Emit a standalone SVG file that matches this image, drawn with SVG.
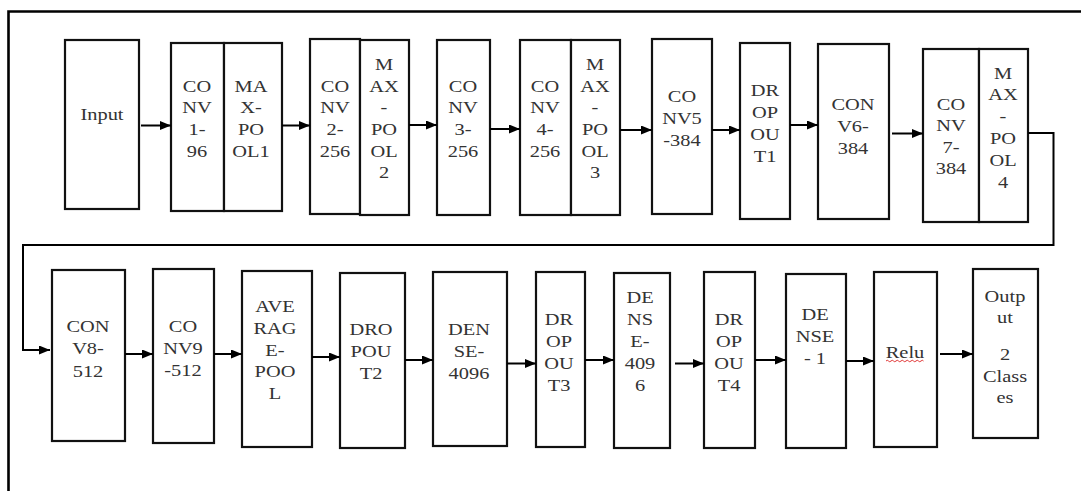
<svg xmlns="http://www.w3.org/2000/svg" width="1081" height="491" viewBox="0 0 1081 491">
<style>
.box{fill:#fff;stroke:#111;stroke-width:2.2}
.frame{fill:none;stroke:#000;stroke-width:2.6}
.cn{fill:none;stroke:#000;stroke-width:2}
.t{font-family:'Liberation Serif','Times New Roman',serif;font-size:17px;fill:#333;text-anchor:middle}
</style>
<defs>
<marker id="ah" markerUnits="userSpaceOnUse" markerWidth="12" markerHeight="10" refX="11" refY="4.5" orient="auto">
<path d="M0,0 L11,4.5 L0,9 z" fill="#000"/>
</marker>
</defs>
<rect x="0" y="0" width="1081" height="491" fill="#fff"/>
<path class="frame" d="M8.5,500 L8.5,11.5 L1090,11.5"/>

<g font-family="Liberation Serif, serif">
<g id="input"><rect class="box" x="65" y="40" width="74" height="169"/>
<text class="t" font-family="Liberation Serif, serif" transform="matrix(1.2 0 0 1 102 0)"><tspan x="0" y="120">Input</tspan></text></g>

<g id="conv1"><rect class="box" x="171" y="43" width="53" height="168"/>
<text class="t" font-family="Liberation Serif, serif" transform="matrix(1.2 0 0 1 197 0)"><tspan x="0" y="92">CO</tspan><tspan x="0" y="113.5">NV</tspan><tspan x="0" y="135">1-</tspan><tspan x="0" y="157">96</tspan></text></g>

<g id="maxpool1"><rect class="box" x="224" y="43" width="58" height="168"/>
<text class="t" font-family="Liberation Serif, serif" transform="matrix(1.2 0 0 1 251 0)"><tspan x="0" y="92">MA</tspan><tspan x="0" y="113.5">X-</tspan><tspan x="0" y="135">PO</tspan><tspan x="0" y="157">OL1</tspan></text></g>

<g id="conv2"><rect class="box" x="310" y="39" width="50" height="175"/>
<text class="t" font-family="Liberation Serif, serif" transform="matrix(1.2 0 0 1 335 0)"><tspan x="0" y="92">CO</tspan><tspan x="0" y="113.5">NV</tspan><tspan x="0" y="135">2-</tspan><tspan x="0" y="157">256</tspan></text></g>

<g id="maxpool2"><rect class="box" x="360" y="40" width="49" height="175"/>
<text class="t" font-family="Liberation Serif, serif" transform="matrix(1.2 0 0 1 384 0)"><tspan x="0" y="70">M</tspan><tspan x="0" y="92">AX</tspan><tspan x="0" y="113.5">-</tspan><tspan x="0" y="135">PO</tspan><tspan x="0" y="157">OL</tspan><tspan x="0" y="178.5">2</tspan></text></g>

<g id="conv3"><rect class="box" x="437" y="40" width="53" height="175"/>
<text class="t" font-family="Liberation Serif, serif" transform="matrix(1.2 0 0 1 463 0)"><tspan x="0" y="92">CO</tspan><tspan x="0" y="113.5">NV</tspan><tspan x="0" y="135">3-</tspan><tspan x="0" y="157">256</tspan></text></g>

<g id="conv4"><rect class="box" x="520" y="40" width="51" height="175"/>
<text class="t" font-family="Liberation Serif, serif" transform="matrix(1.2 0 0 1 545 0)"><tspan x="0" y="92">CO</tspan><tspan x="0" y="113.5">NV</tspan><tspan x="0" y="135">4-</tspan><tspan x="0" y="157">256</tspan></text></g>

<g id="maxpool3"><rect class="box" x="571" y="40" width="49" height="175"/>
<text class="t" font-family="Liberation Serif, serif" transform="matrix(1.2 0 0 1 595 0)"><tspan x="0" y="70">M</tspan><tspan x="0" y="92">AX</tspan><tspan x="0" y="113.5">-</tspan><tspan x="0" y="135">PO</tspan><tspan x="0" y="157">OL</tspan><tspan x="0" y="178.5">3</tspan></text></g>

<g id="conv5"><rect class="box" x="652" y="39" width="60" height="175"/>
<text class="t" font-family="Liberation Serif, serif" transform="matrix(1.2 0 0 1 682 0)"><tspan x="0" y="102">CO</tspan><tspan x="0" y="124">NV5</tspan><tspan x="0" y="146">-384</tspan></text></g>

<g id="dropout1"><rect class="box" x="740" y="43" width="50" height="176"/>
<text class="t" font-family="Liberation Serif, serif" transform="matrix(1.2 0 0 1 765 0)"><tspan x="0" y="96">DR</tspan><tspan x="0" y="118">OP</tspan><tspan x="0" y="140">OU</tspan><tspan x="0" y="162">T1</tspan></text></g>

<g id="conv6"><rect class="box" x="818" y="44" width="71" height="175"/>
<text class="t" font-family="Liberation Serif, serif" transform="matrix(1.2 0 0 1 853 0)"><tspan x="0" y="110">CON</tspan><tspan x="0" y="132">V6-</tspan><tspan x="0" y="154">384</tspan></text></g>

<g id="conv7"><rect class="box" x="923" y="49" width="56" height="173"/>
<text class="t" font-family="Liberation Serif, serif" transform="matrix(1.2 0 0 1 951 0)"><tspan x="0" y="110">CO</tspan><tspan x="0" y="131.5">NV</tspan><tspan x="0" y="153">7-</tspan><tspan x="0" y="174">384</tspan></text></g>

<g id="maxpool4"><rect class="box" x="979" y="49" width="49" height="173"/>
<text class="t" font-family="Liberation Serif, serif" transform="matrix(1.2 0 0 1 1003 0)"><tspan x="0" y="79">M</tspan><tspan x="0" y="100.5">AX</tspan><tspan x="0" y="122">-</tspan><tspan x="0" y="144">PO</tspan><tspan x="0" y="166">OL</tspan><tspan x="0" y="188">4</tspan></text></g>

<g id="conv8"><rect class="box" x="52" y="270" width="73" height="171"/>
<text class="t" font-family="Liberation Serif, serif" transform="matrix(1.2 0 0 1 88 0)"><tspan x="0" y="332">CON</tspan><tspan x="0" y="354">V8-</tspan><tspan x="0" y="377">512</tspan></text></g>

<g id="conv9"><rect class="box" x="153" y="269" width="61" height="174"/>
<text class="t" font-family="Liberation Serif, serif" transform="matrix(1.2 0 0 1 183 0)"><tspan x="0" y="332">CO</tspan><tspan x="0" y="354">NV9</tspan><tspan x="0" y="376">-512</tspan></text></g>

<g id="avgpool"><rect class="box" x="242" y="271" width="70" height="176"/>
<text class="t" font-family="Liberation Serif, serif" transform="matrix(1.2 0 0 1 275 0)"><tspan x="0" y="312">AVE</tspan><tspan x="0" y="334">RAG</tspan><tspan x="0" y="356">E-</tspan><tspan x="0" y="377.5">POO</tspan><tspan x="0" y="399">L</tspan></text></g>

<g id="dropout2"><rect class="box" x="340" y="273" width="65" height="175"/>
<text class="t" font-family="Liberation Serif, serif" transform="matrix(1.2 0 0 1 371 0)"><tspan x="0" y="335">DRO</tspan><tspan x="0" y="357">POU</tspan><tspan x="0" y="379">T2</tspan></text></g>

<g id="dense4096a"><rect class="box" x="433" y="272" width="74" height="174"/>
<text class="t" font-family="Liberation Serif, serif" transform="matrix(1.2 0 0 1 469 0)"><tspan x="0" y="335">DEN</tspan><tspan x="0" y="357">SE-</tspan><tspan x="0" y="379">4096</tspan></text></g>

<g id="dropout3"><rect class="box" x="536" y="272" width="49" height="175"/>
<text class="t" font-family="Liberation Serif, serif" transform="matrix(1.2 0 0 1 559 0)"><tspan x="0" y="325">DR</tspan><tspan x="0" y="347">OP</tspan><tspan x="0" y="369">OU</tspan><tspan x="0" y="391">T3</tspan></text></g>

<g id="dense4096b"><rect class="box" x="614" y="273" width="56" height="175"/>
<text class="t" font-family="Liberation Serif, serif" transform="matrix(1.2 0 0 1 640 0)"><tspan x="0" y="303">DE</tspan><tspan x="0" y="325">NS</tspan><tspan x="0" y="347">E-</tspan><tspan x="0" y="369">409</tspan><tspan x="0" y="391">6</tspan></text></g>

<g id="dropout4"><rect class="box" x="704" y="272" width="51" height="176"/>
<text class="t" font-family="Liberation Serif, serif" transform="matrix(1.2 0 0 1 729 0)"><tspan x="0" y="325">DR</tspan><tspan x="0" y="347">OP</tspan><tspan x="0" y="369">OU</tspan><tspan x="0" y="391">T4</tspan></text></g>

<g id="dense1"><rect class="box" x="786" y="274" width="60" height="174"/>
<text class="t" font-family="Liberation Serif, serif" transform="matrix(1.2 0 0 1 815 0)"><tspan x="0" y="320">DE</tspan><tspan x="0" y="342">NSE</tspan><tspan x="0" y="364.5">- 1</tspan></text></g>

<g id="relu"><rect class="box" x="874" y="272" width="63" height="175"/>
<text class="t" font-family="Liberation Serif, serif" transform="matrix(1.2 0 0 1 905 0)"><tspan x="0" y="358">Relu</tspan></text>
<path d="M886,361 q1.25,-1.5 2.5,0 t2.5,0 t2.5,0 t2.5,0 t2.5,0 t2.5,0 t2.5,0 t2.5,0 t2.5,0 t2.5,0 t2.5,0 t2.5,0 t2.5,0 t2.5,0 t2.5,0" fill="none" stroke="#d22" stroke-width="0.9"/></g>

<g id="output"><rect class="box" x="973" y="269" width="65" height="169"/>
<text class="t" font-family="Liberation Serif, serif" transform="matrix(1.2 0 0 1 1005 0)"><tspan x="0" y="302">Outp</tspan><tspan x="0" y="323">ut</tspan><tspan x="0" y="360">2</tspan><tspan x="0" y="382">Class</tspan><tspan x="0" y="403">es</tspan></text></g>
</g>

<g id="connectors">
<line class="cn" x1="141" y1="125.5" x2="171" y2="125.5" marker-end="url(#ah)"/>
<line class="cn" x1="282" y1="125.5" x2="310" y2="125.5" marker-end="url(#ah)"/>
<line class="cn" x1="409" y1="125" x2="437" y2="125" marker-end="url(#ah)"/>
<line class="cn" x1="490" y1="129" x2="520" y2="129" marker-end="url(#ah)"/>
<line class="cn" x1="620" y1="130" x2="652" y2="130" marker-end="url(#ah)"/>
<line class="cn" x1="712" y1="130" x2="740" y2="130" marker-end="url(#ah)"/>
<line class="cn" x1="790" y1="125" x2="818" y2="125" marker-end="url(#ah)"/>
<line class="cn" x1="892" y1="133.5" x2="923" y2="133.5" marker-end="url(#ah)"/>
<path class="cn" d="M1028,133 L1053.5,133 L1053.5,245 L23,245 L23,350 L50,350" marker-end="url(#ah)"/>
<line class="cn" x1="125" y1="354" x2="153" y2="354" marker-end="url(#ah)"/>
<line class="cn" x1="214" y1="354" x2="242" y2="354" marker-end="url(#ah)"/>
<line class="cn" x1="312" y1="357" x2="340" y2="357" marker-end="url(#ah)"/>
<line class="cn" x1="405" y1="360" x2="433" y2="360" marker-end="url(#ah)"/>
<line class="cn" x1="507" y1="363.5" x2="536" y2="363.5" marker-end="url(#ah)"/>
<line class="cn" x1="585" y1="360" x2="614" y2="360" marker-end="url(#ah)"/>
<line class="cn" x1="675" y1="363.5" x2="704" y2="363.5" marker-end="url(#ah)"/>
<line class="cn" x1="755" y1="360" x2="786" y2="360" marker-end="url(#ah)"/>
<line class="cn" x1="846" y1="361" x2="874" y2="361" marker-end="url(#ah)"/>
<line class="cn" x1="940" y1="354" x2="973" y2="354" marker-end="url(#ah)"/>
</g>
</svg>
